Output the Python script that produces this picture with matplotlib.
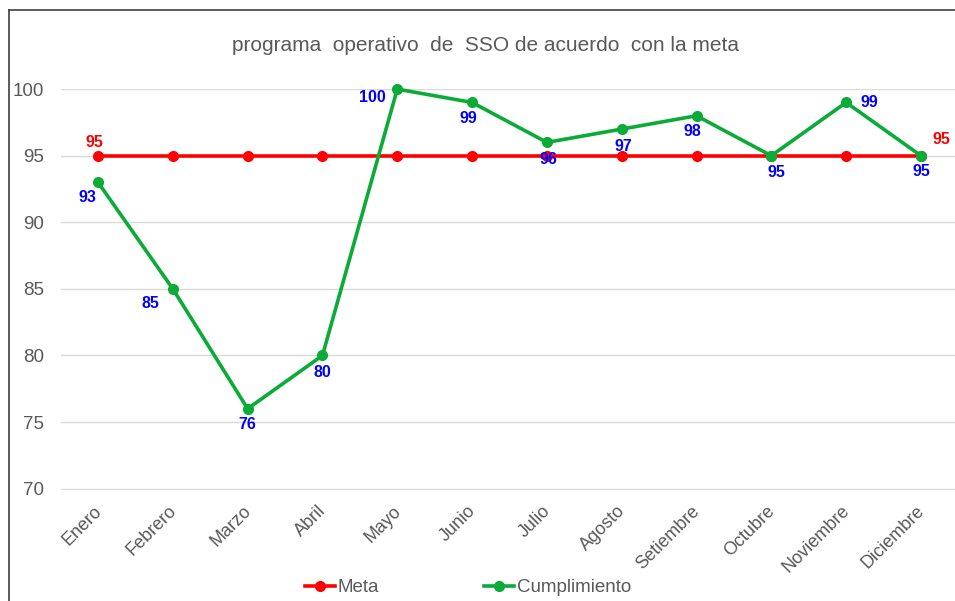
import matplotlib
matplotlib.use("Agg")
import matplotlib.pyplot as plt
from matplotlib.lines import Line2D
from matplotlib.transforms import ScaledTranslation

plt.rcParams['font.family'] = ['Liberation Sans', 'DejaVu Sans']

months = ["Enero", "Febrero", "Marzo", "Abril", "Mayo", "Junio", "Julio",
          "Agosto", "Setiembre", "Octubre", "Noviembre", "Diciembre"]
meta = [95, 95, 95, 95, 95, 95, 95, 95, 95, 95, 95, 95]
cumplimiento = [93, 85, 76, 80, 100, 99, 96, 97, 98, 95, 99, 95]
yticks = [70, 75, 80, 85, 90, 95, 100]

# label offsets in pixels (dx, dy)
cum_offsets = [(-11, -15), (-22, -15), (0, -16), (0, -17), (-25, -8), (-4, -16),
               (2, -17), (2, -17), (-4, -16), (5, -17), (23, 0), (0, -16)]

fig = plt.figure(figsize=(9.55, 6.01), dpi=100)
ax = fig.add_axes([0.0635, 0.1847, 0.940, 0.667])

x = list(range(len(months)))
ax.set_xlim(-0.5, len(months) - 0.5)
ax.set_ylim(69.9, 100)

red = '#ff0000'
green = '#0aab36'
ax.plot(x, meta, color=red, lw=2.6, marker='o', ms=7, clip_on=False, zorder=3, label='Meta')
ax.plot(x, cumplimiento, color=green, lw=2.6, marker='o', ms=7, clip_on=False, zorder=4, label='Cumplimiento')

for xi, v, (dx, dy) in zip(x, cumplimiento, cum_offsets):
    ax.annotate(f"{v}", (xi, v), xytext=(dx, dy), textcoords='offset pixels',
                ha='center', va='center', color='#0000ff', fontsize=11.5, fontweight='bold', zorder=6)

ax.annotate(f"{meta[0]}", (x[0], meta[0]), xytext=(-4, 13), textcoords='offset pixels',
            ha='center', va='center', color=red, fontsize=11.5, fontweight='bold', zorder=6)
ax.annotate(f"{meta[-1]}", (x[-1], meta[-1]), xytext=(20, 16), textcoords='offset pixels',
            ha='center', va='center', color=red, fontsize=11.5, fontweight='bold', zorder=6)

ax.set_yticks(yticks)
ax.set_xticks(x)
ax.set_xticklabels(months, rotation=45, ha='right', rotation_mode='anchor')
ax.tick_params(axis='both', length=0, colors='#595959')
ax.tick_params(axis='y', labelsize=13.5, pad=12)
ax.tick_params(axis='x', labelsize=13, pad=9)
shift = ScaledTranslation(-5 / 100, 0, fig.dpi_scale_trans)
for lab in ax.get_xticklabels():
    lab.set_transform(lab.get_transform() + shift)
ax.grid(axis='y', color='#d9d9d9', lw=1)
ax.set_axisbelow(True)
for s in ax.spines.values():
    s.set_visible(False)

fig.text(0.508, 0.925, "programa  operativo  de  SSO de acuerdo  con la meta",
         ha='center', va='center', fontsize=15, color='#595959')

leg = fig.legend(loc='center', bbox_to_anchor=(0.49, 0.022), ncol=2, frameon=False,
                 fontsize=13.5, handlelength=1.6, handletextpad=0.15, columnspacing=5.6)
for t in leg.get_texts():
    t.set_color('#595959')

# partial chart border (left and top)
fig.add_artist(Line2D([9/955, 9/955], [0, 1 - 10/601], color='#404040', lw=1.2, transform=fig.transFigure))
fig.add_artist(Line2D([9/955, 1], [1 - 10/601, 1 - 10/601], color='#404040', lw=1.2, transform=fig.transFigure))

fig.savefig("out.png", dpi=100)
